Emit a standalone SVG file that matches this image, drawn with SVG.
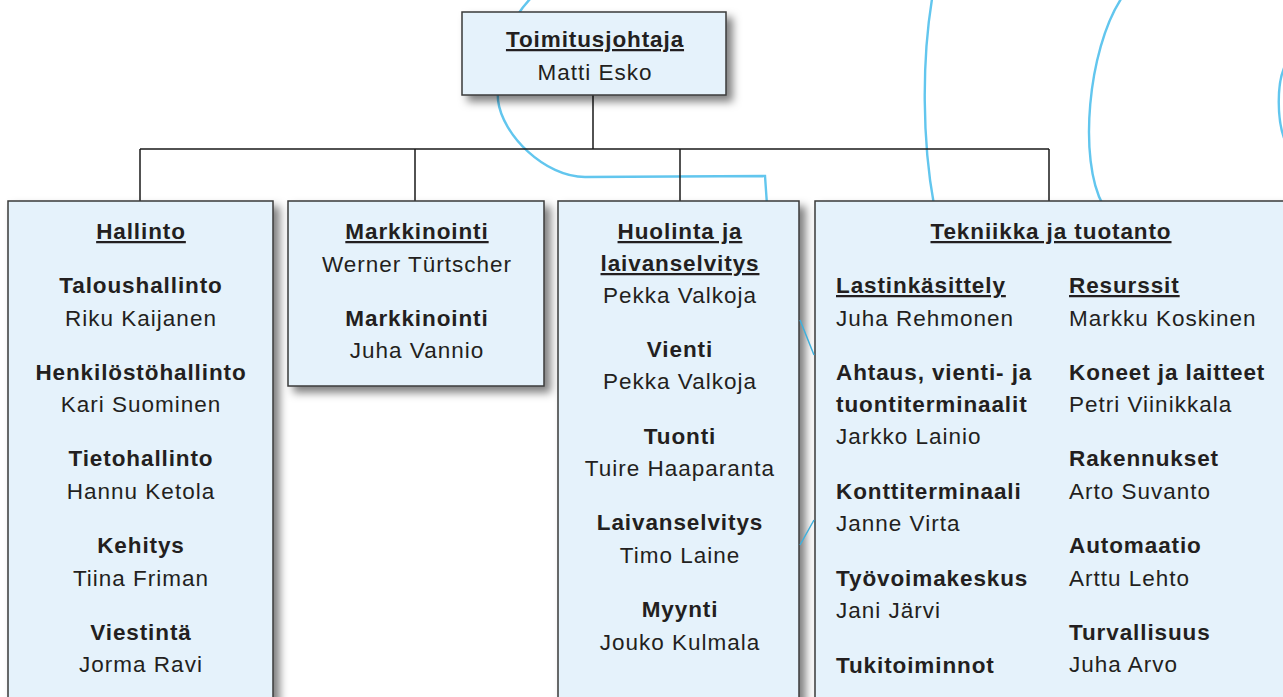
<svg xmlns="http://www.w3.org/2000/svg" width="1283" height="697" viewBox="0 0 1283 697">
<style>
.box{fill:#e5f2fb;stroke:#3a3a3a;stroke-width:1.5;filter:url(#sh)}
.b{font-family:"Liberation Sans",Arial,sans-serif;font-weight:bold;font-size:22.5px;letter-spacing:0.9px;fill:#231f20}
.n{font-family:"Liberation Sans",Arial,sans-serif;font-size:22.5px;letter-spacing:1px;fill:#231f20}
.u{text-decoration:underline}
.c{text-anchor:middle}
.con{fill:none;stroke:#1a1a1a;stroke-width:1.5}
.arc{fill:none;stroke:#62c6ee;stroke-width:2.4}
.arc2{fill:none;stroke:#3fb0dc;stroke-width:1.5}
</style>
<defs>
<filter id="sh" x="-10%" y="-10%" width="130%" height="130%">
<feDropShadow dx="6" dy="6" stdDeviation="4" flood-color="#000" flood-opacity="0.5"/>
</filter>
</defs>
<rect width="1283" height="697" fill="#ffffff"/>
<g id="decor">
<path class="arc" d="M531,-2 C505,25 496,60 498,100 C502,135 545,177 585,177 L765,176 L767,205"/>
<path class="arc" d="M932,-1 C922,60 922,140 934,205"/>
<path class="arc" d="M1121,-1 C1088,50 1078,160 1103,205"/>
<path class="arc" d="M1284,68 C1277,85 1277,118 1284,138"/>
</g>
<g id="connectors">
<path class="con" d="M593,95 V149 M140,149 H1049 M140,149 V201 M415,149 V201 M680,149 V201 M1049,149 V201"/>
</g>
<g id="toimitusjohtaja">
<rect class="box" x="462" y="12" width="264" height="83"/>
<text class="b u c" x="595" y="47">Toimitusjohtaja</text>
<text class="n c" x="595" y="80">Matti Esko</text>
</g>
<g id="hallinto">
<rect class="box" x="8" y="201" width="265" height="510"/>
<text class="b u c" x="141" y="239">Hallinto</text>
<text class="b c" x="141" y="293">Taloushallinto</text>
<text class="n c" x="141" y="326">Riku Kaijanen</text>
<text class="b c" x="141" y="380">Henkilöstöhallinto</text>
<text class="n c" x="141" y="412">Kari Suominen</text>
<text class="b c" x="141" y="466">Tietohallinto</text>
<text class="n c" x="141" y="499">Hannu Ketola</text>
<text class="b c" x="141" y="553">Kehitys</text>
<text class="n c" x="141" y="586">Tiina Friman</text>
<text class="b c" x="141" y="640">Viestintä</text>
<text class="n c" x="141" y="672">Jorma Ravi</text>
</g>
<g id="markkinointi">
<rect class="box" x="288" y="201" width="256" height="185"/>
<text class="b u c" x="417" y="239">Markkinointi</text>
<text class="n c" x="417" y="272">Werner Türtscher</text>
<text class="b c" x="417" y="326">Markkinointi</text>
<text class="n c" x="417" y="358">Juha Vannio</text>
</g>
<g id="huolinta">
<rect class="box" x="558" y="201" width="241" height="510"/>
<text class="b u c" x="680" y="239">Huolinta ja</text>
<text class="b u c" x="680" y="271">laivanselvitys</text>
<text class="n c" x="680" y="303">Pekka Valkoja</text>
<text class="b c" x="680" y="357">Vienti</text>
<text class="n c" x="680" y="389">Pekka Valkoja</text>
<text class="b c" x="680" y="444">Tuonti</text>
<text class="n c" x="680" y="476">Tuire Haaparanta</text>
<text class="b c" x="680" y="530">Laivanselvitys</text>
<text class="n c" x="680" y="563">Timo Laine</text>
<text class="b c" x="680" y="617">Myynti</text>
<text class="n c" x="680" y="650">Jouko Kulmala</text>
</g>
<g id="tekniikka">
<rect class="box" x="815" y="201" width="490" height="510"/>
<text class="b u c" x="1051" y="239">Tekniikka ja tuotanto</text>
<text class="b u" x="836" y="293">Lastinkäsittely</text>
<text class="n" x="836" y="326">Juha Rehmonen</text>
<text class="b" x="836" y="380">Ahtaus, vienti- ja</text>
<text class="b" x="836" y="412">tuontiterminaalit</text>
<text class="n" x="836" y="444">Jarkko Lainio</text>
<text class="b" x="836" y="499">Konttiterminaali</text>
<text class="n" x="836" y="531">Janne Virta</text>
<text class="b" x="836" y="586">Työvoimakeskus</text>
<text class="n" x="836" y="618">Jani Järvi</text>
<text class="b" x="836" y="673">Tukitoiminnot</text>
<text class="b u" x="1069" y="293">Resurssit</text>
<text class="n" x="1069" y="326">Markku Koskinen</text>
<text class="b" x="1069" y="380">Koneet ja laitteet</text>
<text class="n" x="1069" y="412">Petri Viinikkala</text>
<text class="b" x="1069" y="466">Rakennukset</text>
<text class="n" x="1069" y="499">Arto Suvanto</text>
<text class="b" x="1069" y="553">Automaatio</text>
<text class="n" x="1069" y="586">Arttu Lehto</text>
<text class="b" x="1069" y="640">Turvallisuus</text>
<text class="n" x="1069" y="672">Juha Arvo</text>
</g>
<g id="decor-gap">
<path class="arc2" d="M800,320 L814,355 M800,545 L814,520"/>
</g>
</svg>
